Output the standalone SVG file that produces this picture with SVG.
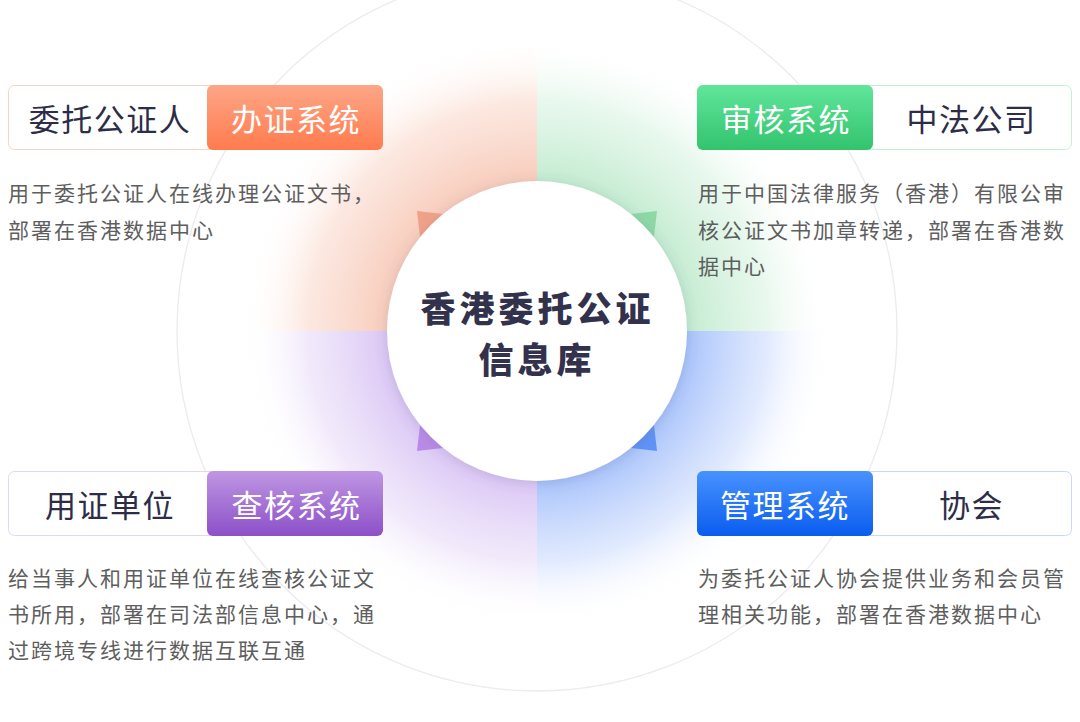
<svg xmlns="http://www.w3.org/2000/svg" width="1080" height="722" viewBox="0 0 1080 722">
<defs>
<style>
.lbl{font-family:"Noto Sans CJK SC","Noto Sans",sans-serif;font-size:31px;letter-spacing:1.5px;text-anchor:middle;dominant-baseline:central}
.dark{fill:#2e2d48}
.white{fill:#ffffff}
.desc{font-family:"Noto Sans CJK SC","Noto Sans",sans-serif;font-size:21px;letter-spacing:2px;fill:#5e5e5e;dominant-baseline:central}
.title{font-family:"Noto Sans CJK SC","Noto Sans",sans-serif;font-size:35px;font-weight:900;letter-spacing:4px;fill:#33324d;text-anchor:middle;dominant-baseline:central}
</style>
<radialGradient id="qO" gradientUnits="userSpaceOnUse" cx="537" cy="331" r="295">
<stop offset="0.5" stop-color="#f7c8b6" stop-opacity="0.95"/>
<stop offset="0.78" stop-color="#fad9cc" stop-opacity="0.6"/>
<stop offset="1" stop-color="#ffffff" stop-opacity="0"/>
</radialGradient>
<radialGradient id="qG" gradientUnits="userSpaceOnUse" cx="537" cy="331" r="295">
<stop offset="0.5" stop-color="#bfeacd" stop-opacity="0.95"/>
<stop offset="0.78" stop-color="#d8f3e1" stop-opacity="0.6"/>
<stop offset="1" stop-color="#ffffff" stop-opacity="0"/>
</radialGradient>
<radialGradient id="qP" gradientUnits="userSpaceOnUse" cx="537" cy="331" r="295">
<stop offset="0.5" stop-color="#d8c2f4" stop-opacity="0.95"/>
<stop offset="0.78" stop-color="#e8dbf8" stop-opacity="0.6"/>
<stop offset="1" stop-color="#ffffff" stop-opacity="0"/>
</radialGradient>
<radialGradient id="qB" gradientUnits="userSpaceOnUse" cx="537" cy="331" r="295">
<stop offset="0.5" stop-color="#a7c2fb" stop-opacity="1"/>
<stop offset="0.78" stop-color="#d0defd" stop-opacity="0.65"/>
<stop offset="1" stop-color="#ffffff" stop-opacity="0"/>
</radialGradient>
<linearGradient id="gO" x1="0" y1="0" x2="0" y2="1"><stop offset="0" stop-color="#fda687"/><stop offset="1" stop-color="#ff7b4e"/></linearGradient>
<linearGradient id="gG" x1="0" y1="0" x2="0" y2="1"><stop offset="0" stop-color="#60e69a"/><stop offset="1" stop-color="#33c36e"/></linearGradient>
<linearGradient id="gP" x1="0" y1="0" x2="0" y2="1"><stop offset="0" stop-color="#bf96e3"/><stop offset="1" stop-color="#8c50c8"/></linearGradient>
<linearGradient id="gB" x1="0" y1="0" x2="0" y2="1"><stop offset="0" stop-color="#4892ff"/><stop offset="1" stop-color="#0a5cee"/></linearGradient>
<filter id="sh" x="-20%" y="-20%" width="140%" height="140%">
<feDropShadow dx="0" dy="2" stdDeviation="6" flood-color="#5a6690" flood-opacity="0.22"/>
</filter>
</defs>
<rect width="1080" height="722" fill="#ffffff"/>

<circle cx="537" cy="331" r="360" fill="none" stroke="#ebebf0" stroke-width="1.3"/>

<g id="quadrants">
<path d="M537,331 L242,331 A295,295 0 0,1 537,36 Z" fill="url(#qO)"/>
<path d="M537,331 L537,36 A295,295 0 0,1 832,331 Z" fill="url(#qG)"/>
<path d="M537,331 L832,331 A295,295 0 0,1 537,626 Z" fill="url(#qB)"/>
<path d="M537,331 L537,626 A295,295 0 0,1 242,331 Z" fill="url(#qP)"/>
</g>

<g id="connectors">
<polygon points="417,211 537,225 537,331 431,331" fill="#f0a288"/>
<polygon points="657,211 643,331 537,331 537,225" fill="#8ed8a6"/>
<polygon points="657,451 537,437 537,331 643,331" fill="#5f93f6"/>
<polygon points="417,451 431,331 537,331 537,437" fill="#b98be6"/>
</g>

<g id="center">
<circle cx="537" cy="331" r="150" fill="#ffffff" filter="url(#sh)"/>
<text class="title"><tspan x="537.5" y="305.5">香港委托公证</tspan><tspan x="537" y="357">信息库</tspan></text>
</g>

<g id="node-tl">
<rect x="8.5" y="85.5" width="374" height="64" rx="6" fill="#ffffff" stroke="#fbd3c5"/>
<rect x="207" y="85" width="176" height="65" rx="6" fill="url(#gO)"/>
<text class="lbl dark" x="110" y="117.5">委托公证人</text>
<text class="lbl white" x="296" y="117.5">办证系统</text>
<text class="desc" x="8" y="191.5">用于委托公证人在线办理公证文书，</text>
<text class="desc" x="8" y="228.5">部署在香港数据中心</text>
</g>

<g id="node-tr">
<rect x="697.5" y="85.5" width="374" height="64" rx="6" fill="#ffffff" stroke="#c5f0d4"/>
<rect x="697" y="85" width="176" height="65" rx="6" fill="url(#gG)"/>
<text class="lbl white" x="786" y="117.5">审核系统</text>
<text class="lbl dark" x="971.5" y="117.5">中法公司</text>
<text class="desc" x="698" y="191.5">用于中国法律服务（香港）有限公审</text>
<text class="desc" x="698" y="228.5">核公证文书加章转递，部署在香港数</text>
<text class="desc" x="698" y="265">据中心</text>
</g>

<g id="node-bl">
<rect x="8.5" y="471.5" width="374" height="64" rx="6" fill="#ffffff" stroke="#e5d5f5"/>
<rect x="207" y="471" width="176" height="65" rx="6" fill="url(#gP)"/>
<text class="lbl dark" x="110" y="503.5">用证单位</text>
<text class="lbl white" x="296.5" y="503.5">查核系统</text>
<text class="desc" x="8" y="577">给当事人和用证单位在线查核公证文</text>
<text class="desc" x="8" y="613">书所用，部署在司法部信息中心，通</text>
<text class="desc" x="8" y="649">过跨境专线进行数据互联互通</text>
</g>

<g id="node-br">
<rect x="697.5" y="471.5" width="374" height="64" rx="6" fill="#ffffff" stroke="#c6d8fb"/>
<rect x="697" y="471" width="176" height="65" rx="6" fill="url(#gB)"/>
<text class="lbl white" x="785" y="503.5">管理系统</text>
<text class="lbl dark" x="971.5" y="503.5">协会</text>
<text class="desc" x="698" y="577">为委托公证人协会提供业务和会员管</text>
<text class="desc" x="698" y="613">理相关功能，部署在香港数据中心</text>
</g>
</svg>
